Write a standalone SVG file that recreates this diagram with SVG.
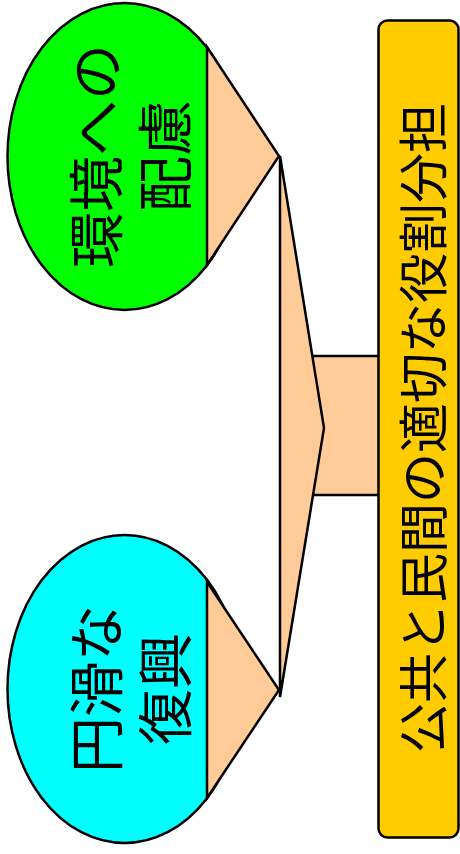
<svg xmlns="http://www.w3.org/2000/svg" width="460" height="854" viewBox="0 0 460 854">
<style>
.ln{stroke:#000;stroke-width:2.5;stroke-linejoin:miter}
.peach{fill:#FFCC99}
.t{font-family:"Noto Sans CJK JP","Noto Sans",sans-serif;fill:#000;text-anchor:middle;dominant-baseline:central}
.big{font-size:56px}
.bar{font-size:50px}
</style>
<rect width="460" height="854" fill="#fff"/>
<g id="node-env">
<ellipse cx="124.5" cy="156.5" rx="117" ry="153.5" fill="#00FF00" class="ln"/>
</g>
<g id="node-recovery">
<ellipse cx="124.5" cy="689" rx="117" ry="154" fill="#00FFFF" class="ln"/>
</g>
<g id="connectors">
<polygon points="207,47 279,156 207,265" class="peach ln"/>
<polygon points="207,582 279,690 207,798" class="peach ln"/>
<rect x="295" y="356" width="84" height="139" class="peach ln"/>
<polygon points="280,156 324,428 280,697" class="peach ln"/>
</g>
<g id="node-role">
<rect x="378.5" y="20.5" width="80" height="817" rx="9" ry="9" fill="#FFCC00" class="ln"/>
<text class="t bar" transform="translate(420,428) rotate(-90)">公共と民間の適切な役割分担</text>
</g>
<g id="label-env">
<text class="t big" transform="translate(92,156) rotate(-90)">環境への</text>
<text class="t big" transform="translate(161,156) rotate(-90)">配慮</text>
</g>
<g id="label-recovery">
<text class="t big" transform="translate(92,689) rotate(-90)">円滑な</text>
<text class="t big" transform="translate(161,689) rotate(-90)">復興</text>
</g>
</svg>
